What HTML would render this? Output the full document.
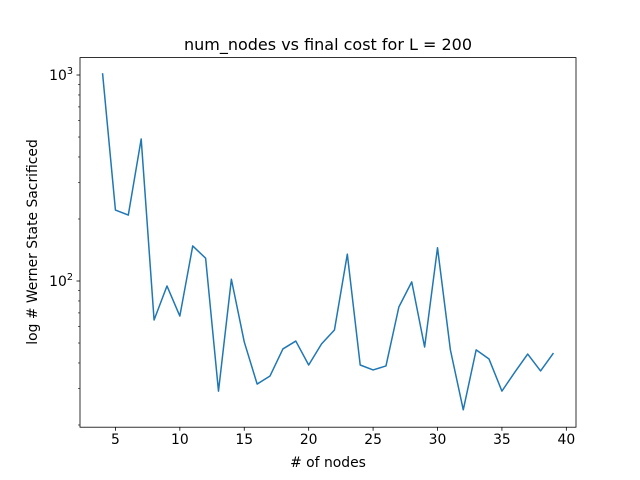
<!DOCTYPE html>
<html><head><meta charset="utf-8"><style>
body{margin:0;background:#fff}
svg{display:block;font-family:"DejaVu Sans","Liberation Sans",sans-serif}
</style></head><body>
<svg id="chart" width="640" height="480">
<rect width="640" height="480" fill="#fff"/>
<text x="328" y="50" text-anchor="middle" font-size="16">num_nodes vs final cost for L = 200</text>
<text x="328" y="467" text-anchor="middle" font-size="13.9"># of nodes</text>
<text transform="translate(37,242) rotate(-90)" text-anchor="middle" font-size="13.9">log # Werner State Sacrificed</text>
<g id="ticks"></g>
<path id="line" fill="none" stroke="#1f77b4" stroke-width="1.5" stroke-linejoin="round"/>
<rect x="80" y="57.6" width="496" height="369.6" fill="none" stroke="#000" stroke-width="0.8"/>
</svg>
<script>
const nodes=[4,5,6,7,8,9,10,11,12,13,14,15,16,17,18,19,20,21,22,23,24,25,26,27,28,29,30,31,32,33,34,35,36,37,38,39];
const costs=[1020,221,209,489,64.7,94.6,67.6,148,129,29.2,102,50.6,31.6,34.6,46.8,51.1,39.1,49.5,57.8,135,39.1,37,38.7,74.8,99,47.8,145,46.3,23.7,46.3,41.8,29.2,36.1,44.2,36.6,44.7];
const xTicks=[5,10,15,20,25,30,35,40];
const yMajor=[2,3];
const L=80,R=576,T=57.6,B=427.2;
const xMin=2.25,xMax=40.75,lMin=1.2903,lMax=3.0845;
function X(v){return L+(v-xMin)/(xMax-xMin)*(R-L);}
function Y(v){return B-(Math.log10(v)-lMin)/(lMax-lMin)*(B-T);}
const NS="http://www.w3.org/2000/svg";
const g=document.getElementById('ticks');
function el(t,a){const e=document.createElementNS(NS,t);for(const k in a)e.setAttribute(k,a[k]);g.appendChild(e);return e;}
xTicks.forEach(t=>{const x=X(t);
 const l=el('line',{x1:x,x2:x,y1:B,y2:B+3.5,stroke:'#000','stroke-width':0.8});
 
 
 const s=el('text',{x:x,y:B+17,'text-anchor':'middle','font-size':13.9});s.textContent=t;
 
 
});
yMajor.forEach(p=>{const y=Y(Math.pow(10,p));
 const l=el('line',{x1:L-3.5,x2:L,y1:y,y2:y,stroke:'#000','stroke-width':0.8});
 
 
 const s=el('text',{x:L-7,y:y+5,'text-anchor':'end','font-size':13.9});
 s.innerHTML='10<tspan dy="-6" font-size="9.7">'+p+'</tspan>';
 
 
});
for(let p=1;p<=3;p++)for(let m=2;m<=9;m++){const v=m*Math.pow(10,p);const lv=Math.log10(v);
 if(lv<lMin||lv>lMax)continue;const y=Y(v);
 const l=el('line',{x1:L-2,x2:L,y1:y,y2:y,stroke:'#000','stroke-width':0.6});
 
 
}
document.getElementById('line').setAttribute('d',nodes.map((n,i)=>(i?'L':'M')+X(n).toFixed(2)+','+Y(costs[i]).toFixed(2)).join(''));
</script>
</body></html>
